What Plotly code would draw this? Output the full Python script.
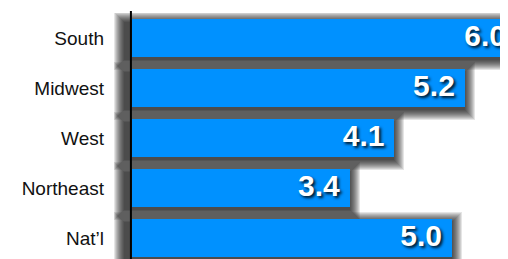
import plotly.graph_objects as go

categories = ["South", "Midwest", "West", "Northeast", "Nat\u2019l"]
values = [6.0, 5.2, 4.1, 3.4, 5.0]
labels = ["6.0", "5.2", "4.1", "3.4", "5.0"]

pos = list(range(len(categories)))
PX_X = 1 / 64.0   # data units per pixel, x
PX_Y = 1 / 50.0   # data units per pixel, y
BAR_W = 0.76

fig = go.Figure()

# soft, blurred-looking drop shadow built from stacked translucent layers
core_left = -8 * PX_X
for e in range(10, -1, -1):
    left = core_left - e * PX_X
    fig.add_trace(go.Bar(
        y=[p + 3 * PX_Y for p in pos],
        x=[v + e * PX_X - left for v in values],
        base=left, orientation="h",
        width=BAR_W + 2 * e * PX_Y,
        marker=dict(color="rgba(0,0,0,0.1)", line_width=0),
        hoverinfo="skip", showlegend=False,
    ))

fig.add_trace(go.Bar(
    y=pos, x=values, orientation="h", width=BAR_W,
    marker=dict(color="#0091FF", line_width=0), showlegend=False,
))

fig.add_trace(go.Scatter(
    x=[v - 10 * PX_X for v in values], y=pos, mode="text", text=labels,
    textposition="middle left", cliponaxis=False, showlegend=False, hoverinfo="skip",
    textfont=dict(family="Liberation Sans, Arial", size=30, color="white",
                  weight="bold", shadow="2px 2px 3px rgba(0,0,0,0.85)"),
))

fig.add_shape(type="line", xref="x", yref="paper", x0=-0.02, x1=-0.02, y0=0, y1=1,
              line=dict(color="black", width=2), layer="above")

# page body has an 8px margin, so the figure is 8px smaller than the window
fig.update_layout(
    width=500, height=251,
    margin=dict(l=105, r=0, t=3, b=0),
    paper_bgcolor="white", plot_bgcolor="white",
    barmode="overlay", bargap=0,
    xaxis=dict(range=[-0.3, 5.875], visible=False, fixedrange=True),
    yaxis=dict(range=[4.42, -0.55], tickvals=pos, ticktext=categories,
               showgrid=False, zeroline=False, showline=False, ticks="",
               automargin=False, ticklabelstandoff=8,
               tickfont=dict(family="Liberation Sans, Arial", size=19, color="#111111")),
)

fig.write_html("out.html")
